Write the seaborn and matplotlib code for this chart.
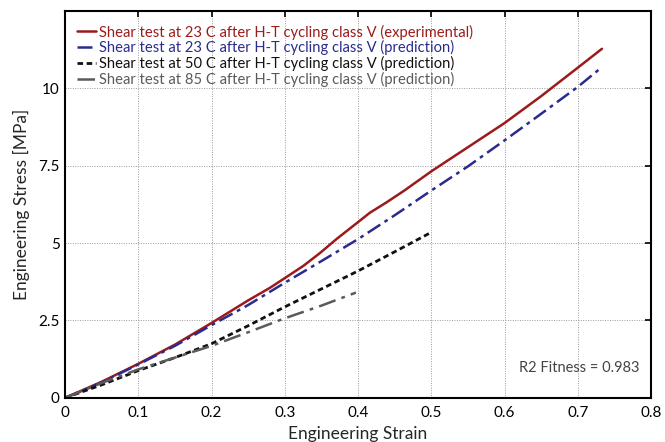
import matplotlib
matplotlib.use("Agg")
import matplotlib.pyplot as plt
import seaborn as sns
import pandas as pd

# Experimental shear curve, 23 C
strain_exp = [0, 0.05, 0.1, 0.15, 0.2, 0.25, 0.28, 0.3, 0.325, 0.348, 0.371, 0.4, 0.416,
              0.439, 0.462, 0.5, 0.55, 0.6, 0.65, 0.7, 0.733]
stress_exp = [0, 0.52, 1.1, 1.72, 2.42, 3.15, 3.56, 3.87, 4.26, 4.68, 5.14, 5.68, 5.98,
              6.32, 6.68, 7.32, 8.1, 8.88, 9.75, 10.67, 11.28]

# Predicted curve, 23 C
strain_p23 = [0, 0.05, 0.1, 0.15, 0.2, 0.25, 0.3, 0.35, 0.4, 0.45, 0.5, 0.55, 0.6, 0.65, 0.7, 0.73]
stress_p23 = [0, 0.5, 1.08, 1.68, 2.35, 3.0, 3.72, 4.42, 5.13, 5.9, 6.7, 7.48, 8.32, 9.18, 10.05, 10.63]

# Predicted curve, 50 C
strain_p50 = [0, 0.05, 0.1, 0.15, 0.2, 0.25, 0.3, 0.35, 0.4, 0.45, 0.5]
stress_p50 = [0, 0.42, 0.88, 1.3, 1.75, 2.33, 2.94, 3.52, 4.1, 4.72, 5.35]

# Predicted curve, 85 C
strain_p85 = [0, 0.05, 0.1, 0.15, 0.2, 0.25, 0.3, 0.35, 0.397]
stress_p85 = [0, 0.48, 0.92, 1.3, 1.68, 2.12, 2.57, 2.98, 3.4]

labels = [
    "Shear test at 23 C after H-T cycling class V (experimental)",
    "Shear test at 23 C after H-T cycling class V (prediction)",
    "Shear test at 50 C after H-T cycling class V (prediction)",
    "Shear test at 85 C after H-T cycling class V (prediction)",
]
colors = ["#9b1b1b", "#2b2b8f", "#111111", "#5a5a5a"]
styles = ["-", (0, (6, 2, 1.5, 2)), (0, (2, 1.3)), (0, (7, 2.5, 1.5, 2.5))]
widths = [1.8, 1.8, 2.0, 1.8]

x_ticks = [0, 0.1, 0.2, 0.3, 0.4, 0.5, 0.6, 0.7, 0.8]
x_tick_labels = ["0", "0.1", "0.2", "0.3", "0.4", "0.5", "0.6", "0.7", "0.8"]
y_ticks = [0, 2.5, 5, 7.5, 10]
y_tick_labels = ["0", "2.5", "5", "7.5", "10"]

sns.set_theme(style="white")
plt.rcParams["font.family"] = ["Lato", "DejaVu Sans"]

fig = plt.figure(figsize=(6.65, 4.42), dpi=100)
ax = fig.add_axes([0.098, 0.1, 0.881, 0.875])

series = [(strain_exp, stress_exp), (strain_p23, stress_p23),
          (strain_p50, stress_p50), (strain_p85, stress_p85)]
for (xs, ys), lab, c, ls, lw in zip(series, labels, colors, styles, widths):
    df = pd.DataFrame({"strain": xs, "stress": ys})
    sns.lineplot(data=df, x="strain", y="stress", ax=ax, color=c,
                 linestyle=ls, linewidth=lw, label=lab, estimator=None, sort=False)

ax.set_xlim(0, 0.8)
ax.set_ylim(0, 12.5)
ax.set_xticks(x_ticks)
ax.set_xticklabels(x_tick_labels)
ax.set_yticks(y_ticks)
ax.set_yticklabels(y_tick_labels)
ax.grid(True, color="#9a9a9a", linestyle=(0, (1, 1.5)), linewidth=0.7)
ax.tick_params(direction="in", length=4, width=1.2, top=True, right=True,
               labelsize=11, colors="black", pad=4)
ax.tick_params(axis="x", pad=6)
for sp in ax.spines.values():
    sp.set_color("black")
    sp.set_linewidth(1.5)

ax.set_xlabel("Engineering Strain", fontsize=12.5, labelpad=4)
ax.set_ylabel("Engineering Stress [MPa]", fontsize=12.5, labelpad=6)

leg = ax.legend(loc="upper left", frameon=False, fontsize=10.6, handlelength=1.3,
                handletextpad=0.2, labelspacing=0.05, borderpad=0, borderaxespad=0,
                bbox_to_anchor=(0.02, 0.965))
for txt, c in zip(leg.get_texts(), colors):
    txt.set_color(c)

ax.text(0.98, 0.078, "R2 Fitness = 0.983", transform=ax.transAxes, ha="right",
        va="center", fontsize=10.5, color="#444444")

fig.savefig("out.png", dpi=100)
